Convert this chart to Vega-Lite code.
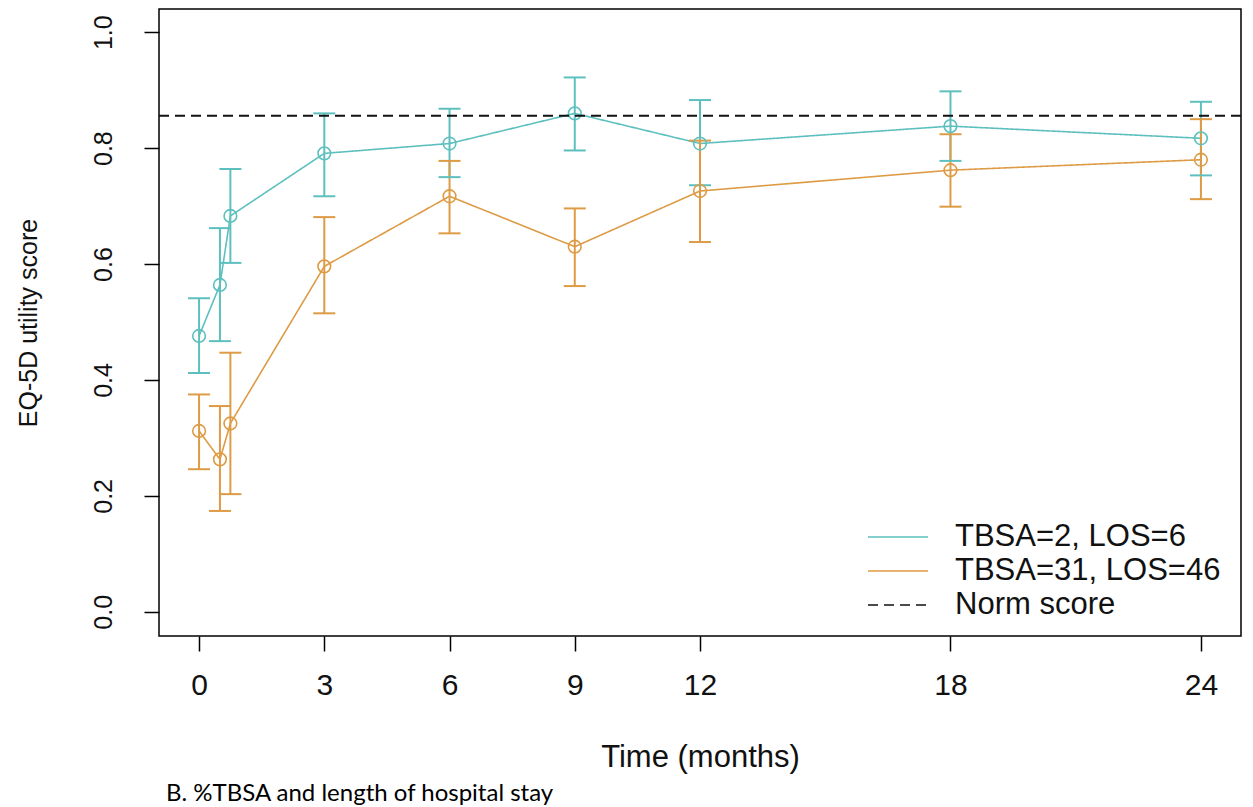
{
  "$schema": "https://vega.github.io/schema/vega-lite/v6.json",
  "autosize": "none",
  "width": 1082,
  "height": 627,
  "padding": {"left": 159, "top": 9, "right": 12, "bottom": 171},
  "background": "white",
  "title": {
    "text": "B. %TBSA and length of hospital stay",
    "orient": "bottom",
    "anchor": "start",
    "frame": "group",
    "dx": 7,
    "offset": 10,
    "font": "Lato",
    "fontSize": 24,
    "fontWeight": "normal",
    "color": "black"
  },
  "config": {
    "view": {"stroke": "black", "strokeWidth": 1.5},
    "axis": {
      "grid": false,
      "domain": false,
      "tickColor": "black",
      "tickWidth": 1.5,
      "tickSize": 15,
      "labelColor": "#111",
      "titleColor": "#111",
      "labelFont": "Liberation Sans",
      "titleFont": "Liberation Sans",
      "titleFontWeight": "normal"
    },
    "legend": {
      "orient": "none",
      "legendX": 708,
      "legendY": 511,
      "padding": 0,
      "symbolType": "stroke",
      "symbolSize": 3600,
      "symbolStrokeWidth": 1.5,
      "clipHeight": 34,
      "rowPadding": 0,
      "labelOffset": 26,
      "labelFont": "Liberation Sans",
      "labelFontSize": 31,
      "labelColor": "#111",
      "labelLimit": 400
    }
  },
  "datasets": {
    "scores": [
      {"series": "TBSA=2, LOS=6", "time": 0, "mean": 0.476, "lo": 0.412, "hi": 0.541},
      {"series": "TBSA=2, LOS=6", "time": 0.5, "mean": 0.564, "lo": 0.467, "hi": 0.662},
      {"series": "TBSA=2, LOS=6", "time": 0.75, "mean": 0.683, "lo": 0.602, "hi": 0.764},
      {"series": "TBSA=2, LOS=6", "time": 3, "mean": 0.791, "lo": 0.717, "hi": 0.860},
      {"series": "TBSA=2, LOS=6", "time": 6, "mean": 0.808, "lo": 0.750, "hi": 0.868},
      {"series": "TBSA=2, LOS=6", "time": 9, "mean": 0.860, "lo": 0.796, "hi": 0.922},
      {"series": "TBSA=2, LOS=6", "time": 12, "mean": 0.808, "lo": 0.736, "hi": 0.883},
      {"series": "TBSA=2, LOS=6", "time": 18, "mean": 0.838, "lo": 0.778, "hi": 0.898},
      {"series": "TBSA=2, LOS=6", "time": 24, "mean": 0.817, "lo": 0.753, "hi": 0.880},
      {"series": "TBSA=31, LOS=46", "time": 0, "mean": 0.312, "lo": 0.246, "hi": 0.375},
      {"series": "TBSA=31, LOS=46", "time": 0.5, "mean": 0.263, "lo": 0.174, "hi": 0.355},
      {"series": "TBSA=31, LOS=46", "time": 0.75, "mean": 0.325, "lo": 0.203, "hi": 0.447},
      {"series": "TBSA=31, LOS=46", "time": 3, "mean": 0.596, "lo": 0.515, "hi": 0.681},
      {"series": "TBSA=31, LOS=46", "time": 6, "mean": 0.717, "lo": 0.653, "hi": 0.778},
      {"series": "TBSA=31, LOS=46", "time": 9, "mean": 0.630, "lo": 0.562, "hi": 0.696},
      {"series": "TBSA=31, LOS=46", "time": 12, "mean": 0.726, "lo": 0.638, "hi": 0.813},
      {"series": "TBSA=31, LOS=46", "time": 18, "mean": 0.762, "lo": 0.699, "hi": 0.824},
      {"series": "TBSA=31, LOS=46", "time": 24, "mean": 0.780, "lo": 0.712, "hi": 0.850}
    ],
    "norm": [
      {"series": "Norm score", "value": 0.856}
    ]
  },
  "encoding": {
    "x": {
      "field": "time",
      "type": "quantitative",
      "scale": {"domain": [-0.96, 24.96], "nice": false, "zero": false},
      "axis": {
        "values": [0, 3, 6, 9, 12, 18, 24],
        "title": "Time (months)",
        "labelFontSize": 30,
        "labelPadding": 19,
        "titleFontSize": 31,
        "titlePadding": 42
      }
    },
    "y": {
      "field": "mean",
      "type": "quantitative",
      "scale": {"domain": [-0.0418, 1.0401], "nice": false, "zero": false},
      "axis": {
        "values": [0, 0.2, 0.4, 0.6, 0.8, 1.0],
        "format": ".1f",
        "title": "EQ-5D utility score",
        "labelAngle": -90,
        "labelAlign": "center",
        "labelBaseline": "bottom",
        "labelFontSize": 25,
        "labelPadding": 28,
        "titleFontSize": 25,
        "titlePadding": 50
      }
    },
    "color": {
      "field": "series",
      "type": "nominal",
      "scale": {
        "domain": ["TBSA=2, LOS=6", "TBSA=31, LOS=46", "Norm score"],
        "range": ["#5EC0BE", "#DE9B45", "#111111"]
      },
      "legend": {"title": null}
    }
  },
  "layer": [
    {
      "data": {"name": "scores"},
      "mark": {"type": "line", "strokeWidth": 1.6},
      "encoding": {
        "strokeDash": {
          "field": "series",
          "type": "nominal",
          "scale": {
            "domain": ["TBSA=2, LOS=6", "TBSA=31, LOS=46", "Norm score"],
            "range": [[1, 0], [1, 0], [10, 6]]
          },
          "legend": {"title": null}
        }
      }
    },
    {
      "data": {"name": "scores"},
      "mark": {"type": "rule", "strokeWidth": 2},
      "encoding": {
        "y": {"field": "lo", "type": "quantitative"},
        "y2": {"field": "hi"}
      }
    },
    {
      "data": {"name": "scores"},
      "mark": {"type": "tick", "orient": "horizontal", "size": 22, "thickness": 2, "opacity": 1},
      "encoding": {
        "y": {"field": "lo", "type": "quantitative"}
      }
    },
    {
      "data": {"name": "scores"},
      "mark": {"type": "tick", "orient": "horizontal", "size": 22, "thickness": 2, "opacity": 1},
      "encoding": {
        "y": {"field": "hi", "type": "quantitative"}
      }
    },
    {
      "data": {"name": "scores"},
      "mark": {"type": "point", "shape": "circle", "filled": false, "size": 160, "strokeWidth": 1.6, "opacity": 1}
    },
    {
      "data": {"name": "norm"},
      "mark": {"type": "rule", "strokeWidth": 2},
      "encoding": {
        "x": null,
        "y": {"field": "value", "type": "quantitative"},
        "strokeDash": {
          "field": "series",
          "type": "nominal",
          "scale": {
            "domain": ["TBSA=2, LOS=6", "TBSA=31, LOS=46", "Norm score"],
            "range": [[1, 0], [1, 0], [10, 6]]
          },
          "legend": {"title": null}
        }
      }
    }
  ]
}
